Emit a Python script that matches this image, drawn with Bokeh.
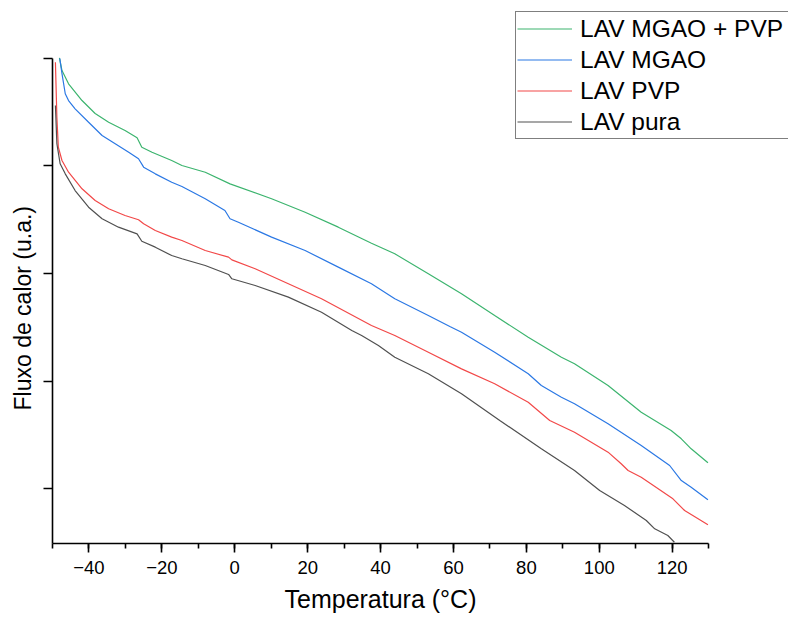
from bokeh.plotting import figure
from bokeh.models import Range1d, SingleIntervalTicker, FixedTicker, Legend, LegendItem, Title
from bokeh.embed import file_html
from bokeh.resources import INLINE

# ---- data (temperature in °C, heat flow in arbitrary units) ----
t_mgao_pvp = [-48.1, -47.4, -45.6, -41.9, -38.3, -34.6, -30.1, -26.8, -25.5, -22.7, -17.3, -14.5,
              -8.1, -1.3, 10.1, 19.3, 28.4, 37.5, 43.9, 53.1, 62.2, 71.3, 80.5, 89.6, 93.2,
              102.4, 111.5, 119.7, 122.5, 125.2, 129.8]
y_mgao_pvp = [5.006, 4.888, 4.765, 4.609, 4.488, 4.407, 4.330, 4.262, 4.175, 4.128, 4.051, 4.005,
              3.942, 3.834, 3.695, 3.570, 3.431, 3.282, 3.183, 2.997, 2.811, 2.609, 2.407, 2.221, 2.160,
              1.958, 1.710, 1.540, 1.462, 1.369, 1.239]

t_mgao = [-48.0, -47.4, -46.5, -45.6, -43.8, -40.1, -36.4, -32.8, -29.1, -26.4, -25.0, -21.8,
          -17.3, -14.5, -8.1, -2.7, -1.3, 1.0, 10.1, 19.3, 28.4, 37.5, 43.9, 53.1, 59.0, 62.2,
          71.3, 80.5, 84.1, 89.6, 93.2, 102.4, 111.5, 119.3, 122.5, 125.2, 129.8]
y_mgao = [5.000, 4.860, 4.672, 4.609, 4.532, 4.407, 4.284, 4.207, 4.128, 4.067, 3.989, 3.927,
          3.849, 3.809, 3.695, 3.586, 3.509, 3.477, 3.338, 3.214, 3.059, 2.904, 2.765, 2.609, 2.507, 2.454,
          2.268, 2.067, 1.958, 1.849, 1.788, 1.602, 1.400, 1.214, 1.074, 1.012, 0.895]

t_pvp = [-49.2, -48.8, -48.4, -47.4, -45.6, -41.9, -38.3, -34.6, -30.1, -26.4, -25.0, -21.8,
         -17.3, -14.5, -8.1, -1.7, -0.8, 5.6, 14.7, 23.8, 37.5, 43.9, 53.1, 62.2, 71.3, 80.5,
         86.4, 93.2, 102.4, 106.0, 107.9, 111.5, 120.2, 123.4, 129.8]
y_pvp = [4.966, 4.454, 4.175, 4.051, 3.942, 3.788, 3.679, 3.602, 3.540, 3.500, 3.462, 3.400,
         3.338, 3.307, 3.214, 3.152, 3.127, 3.044, 2.904, 2.765, 2.516, 2.423, 2.268, 2.113, 1.974, 1.803,
         1.633, 1.524, 1.338, 1.230, 1.167, 1.105, 0.904, 0.795, 0.662]

t_pura = [-49.2, -48.8, -47.9, -46.5, -43.8, -40.1, -36.4, -31.9, -26.8, -25.5, -21.8, -17.3,
          -14.5, -8.1, -1.7, -0.8, 5.6, 14.7, 23.8, 32.1, 34.8, 39.4, 43.9, 53.1, 62.2, 72.7,
          84.1, 93.2, 100.1, 106.9, 112.9, 115.2, 118.8, 120.6]
y_pura = [4.563, 4.207, 4.020, 3.927, 3.772, 3.617, 3.509, 3.431, 3.369, 3.300, 3.245, 3.167,
          3.137, 3.074, 2.991, 2.951, 2.888, 2.780, 2.640, 2.470, 2.423, 2.330, 2.221, 2.067, 1.881, 1.633,
          1.369, 1.167, 0.981, 0.842, 0.702, 0.625, 0.563, 0.500]

x_ticks = [-40, -20, 0, 20, 40, 60, 80, 100, 120]
y_ticks = [1, 2, 3, 4, 5]
labels = ["LAV MGAO + PVP", "LAV MGAO", "LAV PVP", "LAV pura"]
colors = ["#3cb46e", "#2b78e4", "#f24848", "#505050"]
x_title = "Temperatura (°C)"
y_title = "Fluxo de calor (u.a.)"

FONT = "Liberation Sans"

# axis extents (the frame is larger so that the legend, placed above/right of the axes, is not clipped)
x_axis_bounds = (-50, 130)
y_axis_bounds = (0.4884, 5.0)

p = figure(width=788, height=619, output_backend="svg", toolbar_location=None, title=None,
           x_range=Range1d(-50, 151.9), y_range=Range1d(0.4884, 5.5395),
           min_border_left=51, min_border_right=0, min_border_top=0, min_border_bottom=76)
p.outline_line_color = None
p.xgrid.visible = False
p.ygrid.visible = False
p.background_fill_color = "white"
p.border_fill_color = "white"

series = [(t_mgao_pvp, y_mgao_pvp), (t_mgao, y_mgao), (t_pvp, y_pvp), (t_pura, y_pura)]
renderers = []
for (xs, ys), c in zip(series, colors):
    r = p.line(xs, ys, line_color=c, line_width=1.2)
    renderers.append(r)

# x axis
xa = p.xaxis[0]
xa.bounds = x_axis_bounds
xa.ticker = SingleIntervalTicker(interval=20, num_minor_ticks=2)
xa.axis_line_width = 1.6
xa.major_tick_line_width = 1.6
xa.minor_tick_line_width = 1.6
xa.major_tick_out = 9
xa.major_tick_in = 0
xa.minor_tick_out = 5
xa.minor_tick_in = 0
xa.major_label_text_font = FONT
xa.major_label_text_font_size = "18.5px"
xa.major_label_text_color = "black"
xa.major_label_standoff = 8

# y axis
ya = p.yaxis[0]
ya.bounds = y_axis_bounds
ya.ticker = FixedTicker(ticks=y_ticks)
ya.axis_line_width = 1.6
ya.major_tick_line_width = 1.6
ya.major_tick_out = 9
ya.major_tick_in = 0
ya.minor_tick_out = 0
ya.minor_tick_in = 0
ya.major_label_overrides = {t: "" for t in y_ticks}
ya.major_label_standoff = 0

# axis titles (side-panel titles, positioned along the axes rather than the whole frame)
xt = Title(text=x_title, align="left", offset=232, standoff=12,
           text_font=FONT, text_font_size="25px", text_font_style="normal", text_color="black")
p.add_layout(xt, "below")
yt = Title(text=y_title, align="left", offset=133, standoff=15,
           text_font=FONT, text_font_size="23px", text_font_style="normal", text_color="black")
p.add_layout(yt, "left")

legend = Legend(items=[LegendItem(label=l, renderers=[r]) for l, r in zip(labels, renderers)],
                location=(463, 404))
legend.label_text_font = FONT
legend.label_text_font_size = "24.5px"
legend.label_text_color = "black"
legend.glyph_width = 55
legend.glyph_height = 31
legend.label_height = 31
legend.label_width = 230
legend.label_standoff = 8
legend.spacing = 0
legend.padding = 1
legend.margin = 0
legend.border_line_color = "black"
legend.border_line_width = 1
legend.background_fill_color = "white"
legend.background_fill_alpha = 1.0
p.add_layout(legend, "center")

open("out.html", "w").write(file_html(p, INLINE))
